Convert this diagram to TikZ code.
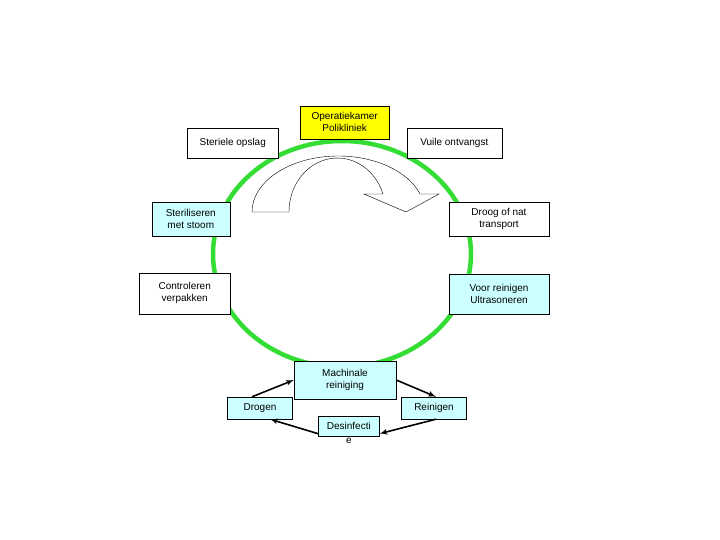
\documentclass[tikz,border=0pt]{standalone}
\usepackage{fontspec}
\setmainfont{Liberation Sans}
\usetikzlibrary{arrows}
\usetikzlibrary{calc}
\definecolor{ringgreen}{HTML}{33DD33}
\definecolor{stapcyan}{HTML}{CCFFFF}
\definecolor{opgeel}{HTML}{FFFF00}

\begin{document}
\begin{tikzpicture}[>=latex', x=1pt, y=-1pt,
    every node/.style={font=\fontsize{10}{12}\selectfont},
    stap/.style={draw, thin, fill=white, align=center, inner sep=0pt}]
      \useasboundingbox (0,0) rectangle (720,540);
      \coordinate (ringcenter) at (342, 254);

      % groene kringloop
      \draw [color=ringgreen, line width=4.5pt] (ringcenter) ellipse [x radius=129, y radius=113];

      % gebogen pijl in het midden
      \draw [thin, fill=white] (252, 212) arc [start angle=180, end angle=341.3, x radius=86.3, y radius=56]
      -- (439, 194) -- (406, 212) -- (364, 194) -- (383, 194)
      arc [start angle=340.5, end angle=180, x radius=48.4, y radius=54] -- cycle;

      \node [stap, fill=opgeel, minimum width=89, minimum height=33, name=opk] at
      ($(ringcenter) + (2.7, -131.7)$) {Operatiekamer\\Polikliniek};
      \node [stap, minimum width=91, minimum height=30, name=steriel] at
      ($(ringcenter) + (-109.2, -111)$) {Steriele opslag};
      \node [stap, minimum width=95, minimum height=30, name=vuil] at
      ($(ringcenter) + (112.3, -111)$) {Vuile ontvangst};

      \node [stap, fill=stapcyan, minimum width=78, minimum height=34, name=stoom] at
      ($(ringcenter) + (-151.2, -35.2)$) {Steriliseren\\met stoom};
      \node [stap, minimum width=100, minimum height=34, name=droog] at
      ($(ringcenter) + (157, -35.2)$) {Droog of nat\\transport};

      \node [stap, minimum width=91, minimum height=41, name=contr] at
      ($(ringcenter) + (-157.3, 39.3)$) {Controleren\\verpakken};
      \node [stap, fill=stapcyan, minimum width=100, minimum height=40, name=voor] at
      ($(ringcenter) + (157, 40)$) {Voor reinigen\\Ultrasoneren};

      \node [stap, fill=stapcyan, minimum width=102, minimum height=38, name=mach] at
      ($(ringcenter) + (3, 126)$) {Machinale\\reiniging};
      \node [stap, fill=stapcyan, minimum width=65, minimum height=22, name=drogen] at
      ($(mach) + (-85, 28)$) {Drogen};
      \node [stap, fill=stapcyan, minimum width=65, minimum height=22, name=rein] at
      ($(mach) + (89, 28)$) {Reinigen};
      \node [stap, fill=stapcyan, minimum width=61, minimum height=20, name=desinf,
      label={[inner sep=0pt, yshift=-2pt]below:e}] at
      ($(mach) + (3.8, 45.7)$) {Desinfecti};

      \draw [->, line width=1.6pt] ([xshift=-8pt]drogen.north) -- (mach.west);
      \draw [->, line width=1.6pt] (mach.east) -- ([xshift=2pt]rein.north);
      \draw [->, line width=1.6pt] ([xshift=2pt]rein.south) -- ([yshift=-8pt]desinf.east);
      \draw [->, line width=1.6pt] ([yshift=-8pt]desinf.west) -- ([xshift=10pt]drogen.south);
    \end{tikzpicture}
\end{document}
